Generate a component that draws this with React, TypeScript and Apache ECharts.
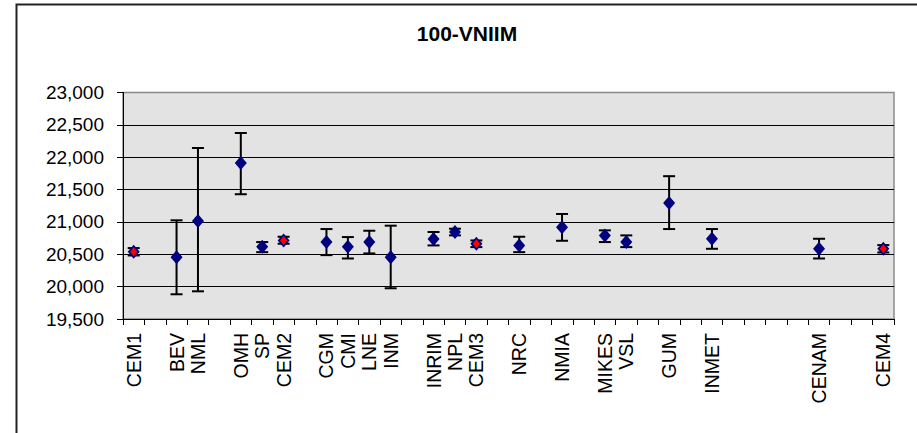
import React, { useEffect, useRef } from "react";
import * as echarts from "echarts";

const categories = [
  "CEM1", "", "BEV", "NML", "", "OMH", "SP", "CEM2", "", "CGM", "CMI", "LNE", "INM", "",
  "INRIM", "NPL", "CEM3", "", "NRC", "", "NMIA", "", "MIKES", "VSL", "", "GUM", "", "INMET",
  "", "", "", "", "CENAM", "", "", "CEM4",
];

const labs = ["CEM1", "BEV", "NML", "OMH", "SP", "CEM2", "CGM", "CMI", "LNE", "INM", "INRIM", "NPL", "CEM3", "NRC", "NMIA", "MIKES", "VSL", "GUM", "INMET", "CENAM", "CEM4"];
const values = [20540, 20456, 21014, 21909, 20616, 20714, 20689, 20616, 20689, 20456, 20735, 20844, 20663, 20637, 20916, 20792, 20689, 21294, 20740, 20585, 20585];
const highs = [20596, 21025, 22142, 22374, 20689, 20771, 20890, 20766, 20864, 20942, 20844, 20895, 20714, 20771, 21123, 20870, 20792, 21707, 20890, 20740, 20642];
const lows = [20482, 19882, 19928, 21428, 20533, 20663, 20487, 20435, 20513, 19975, 20637, 20792, 20611, 20533, 20709, 20689, 20611, 20890, 20585, 20435, 20528];

const title = "100-VNIIM";
const FONT = "'Liberation Sans', Arial, sans-serif";

export default function App() {
  const ref = useRef<HTMLDivElement>(null);
  useEffect(() => {
    if (!ref.current) return;
    const chart = echarts.init(ref.current, undefined, { renderer: "svg" });
    const points = labs.map((l, i) => [categories.indexOf(l), values[i]]);
    const cemPoints = labs
      .map((l, i) => (l.startsWith("CEM") ? [categories.indexOf(l), values[i]] : null))
      .filter((d) => d !== null);
    const bars = labs.map((l, i) => [categories.indexOf(l), lows[i], highs[i]]);
    chart.setOption({
      animation: false,
      backgroundColor: "#ffffff",
      title: {
        text: title,
        left: 467,
        top: 20,
        textAlign: "center",
        textStyle: { fontFamily: FONT, fontSize: 21, fontWeight: "bold", color: "#000", lineHeight: 26 },
        padding: 0,
      },
      graphic: [
        {
          type: "rect",
          shape: { x: 16.5, y: 4.5, width: 1000, height: 1000 },
          style: { fill: "none", stroke: "#222", lineWidth: 2 },
          silent: true,
          z: 100,
        },
      ],
      grid: {
        left: 123,
        right: 23,
        top: 92.5,
        bottom: 114,
        show: true,
        backgroundColor: "#E3E3E3",
        borderColor: "#8a8a8a",
        borderWidth: 1.5,
      },
      xAxis: {
        type: "category",
        data: categories,
        boundaryGap: true,
        axisLine: { show: true, lineStyle: { color: "#000", width: 1 } },
        axisTick: { show: true, length: 6, interval: 0, lineStyle: { color: "#000" } },
        axisLabel: {
          interval: 0,
          rotate: 90,
          margin: 14,
          fontFamily: FONT,
          fontSize: 19.5,
          color: "#000",
        },
        splitLine: { show: false },
      },
      yAxis: {
        type: "value",
        min: 19500,
        max: 23000,
        interval: 500,
        axisLine: { show: true, lineStyle: { color: "#000", width: 1 } },
        axisTick: { show: true, length: 6, lineStyle: { color: "#000" } },
        axisLabel: {
          margin: 19,
          fontFamily: FONT,
          fontSize: 19,
          color: "#000",
          formatter: (v: number) => v.toLocaleString("en-US"),
        },
        splitLine: {
          show: true,
          showMinLine: false,
          showMaxLine: false,
          lineStyle: { color: "#000", width: 1 },
        },
      },
      series: [
        {
          type: "custom",
          name: "uncertainty",
          z: 2,
          data: bars,
          renderItem: (params: any, api: any) => {
            const x = api.value(0);
            const lo = api.coord([x, api.value(1)]);
            const hi = api.coord([x, api.value(2)]);
            const half = 6;
            const style = { stroke: "#000", lineWidth: 2 };
            return {
              type: "group",
              children: [
                { type: "line", shape: { x1: lo[0], y1: lo[1], x2: hi[0], y2: hi[1] }, style },
                { type: "line", shape: { x1: lo[0] - half, y1: lo[1], x2: lo[0] + half, y2: lo[1] }, style },
                { type: "line", shape: { x1: hi[0] - half, y1: hi[1], x2: hi[0] + half, y2: hi[1] }, style },
              ],
            };
          },
        },
        {
          type: "scatter",
          name: "value",
          z: 3,
          symbol: "diamond",
          symbolSize: [12, 14],
          itemStyle: { color: "#000080", opacity: 1 },
          data: points,
        },
        {
          type: "scatter",
          name: "CEM",
          z: 4,
          symbol: "diamond",
          symbolSize: [7, 9],
          itemStyle: { color: "#FF0000", opacity: 1 },
          data: cemPoints,
        },
      ],
    });
    return () => chart.dispose();
  }, []);
  return (
    <div
      ref={ref}
      style={{ position: "fixed", left: 0, top: 0, width: 917, height: 433 }}
    />
  );
}
